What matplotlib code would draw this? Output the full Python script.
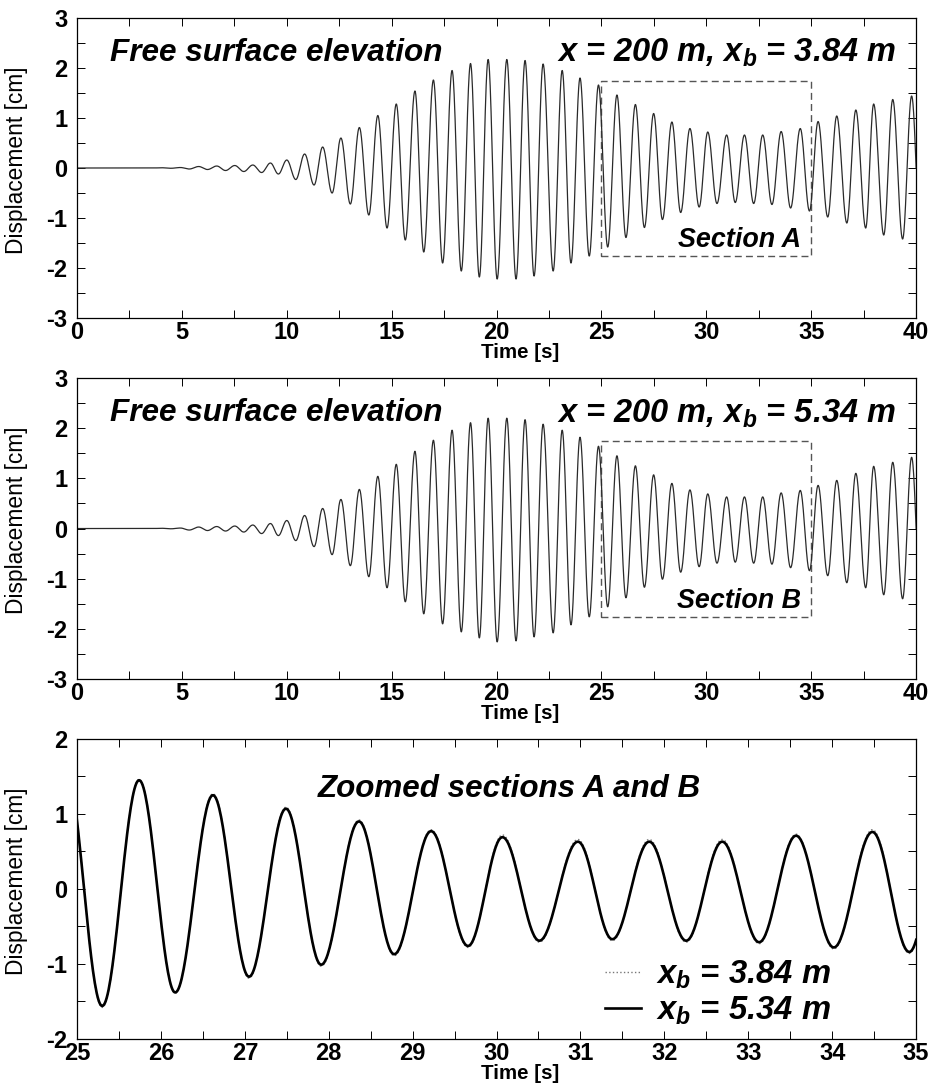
import matplotlib
matplotlib.use("Agg")
import matplotlib.pyplot as plt
import numpy as np
from matplotlib import font_manager
from matplotlib.ticker import MultipleLocator
from matplotlib.patches import Rectangle

# crest / trough times [s], alternating
ext_time = [0.0, 3.6, 4.05, 4.48, 4.93, 5.35, 5.80, 6.22, 6.66, 7.08, 7.52, 7.95,
            8.38, 8.80, 9.22, 9.60, 10.00, 10.43, 10.85, 11.30, 11.71, 12.16,
            12.58, 13.03, 13.46, 13.91, 14.34, 14.78, 15.22, 15.65, 16.11, 16.53,
            16.99, 17.43, 17.88, 18.32, 18.76, 19.18, 19.60, 20.03, 20.49, 20.93,
            21.36, 21.79, 22.22, 22.70, 23.13, 23.55, 23.98, 24.42, 24.86, 25.30,
            25.74, 26.17, 26.62, 27.05, 27.49, 27.91, 28.36, 28.78, 29.22, 29.66,
            30.07, 30.51, 30.97, 31.38, 31.82, 32.26, 32.69, 33.13, 33.57, 34.02,
            34.48, 34.92, 35.33, 35.79, 36.22, 36.70, 37.13, 37.60, 37.98, 38.46,
            38.89, 39.36, 39.79, 40.22]

# elevation at those extrema [cm], breaker position x_b = 3.84 m
elev_a = [0, 0, 0.005, -0.005, 0.01, -0.02, 0.03, -0.03, 0.04, -0.05, 0.05, -0.07,
          0.06, -0.09, 0.10, -0.12, 0.16, -0.23, 0.28, -0.34, 0.42, -0.50,
          0.60, -0.72, 0.81, -0.94, 1.05, -1.20, 1.28, -1.44, 1.54, -1.68,
          1.76, -1.90, 1.95, -2.06, 2.09, -2.18, 2.17, -2.22, 2.17, -2.22,
          2.15, -2.16, 2.08, -2.06, 1.95, -1.90, 1.80, -1.76, 1.66, -1.58,
          1.46, -1.39, 1.27, -1.19, 1.09, -1.03, 0.92, -0.89, 0.79, -0.78,
          0.72, -0.71, 0.66, -0.69, 0.66, -0.71, 0.66, -0.73, 0.73, -0.80,
          0.79, -0.86, 0.93, -0.98, 1.04, -1.10, 1.16, -1.20, 1.28, -1.34,
          1.37, -1.42, 1.44, -1.45]

# x_b = 5.34 m
elev_b = [0, 0, 0.005, -0.005, 0.01, -0.03, 0.03, -0.04, 0.04, -0.05, 0.05, -0.07,
          0.07, -0.10, 0.10, -0.14, 0.16, -0.24, 0.26, -0.36, 0.40, -0.52,
          0.58, -0.74, 0.78, -0.96, 1.04, -1.18, 1.28, -1.46, 1.54, -1.70,
          1.76, -1.90, 1.96, -2.06, 2.11, -2.18, 2.20, -2.26, 2.20, -2.24,
          2.17, -2.16, 2.08, -2.08, 1.96, -1.92, 1.82, -1.76, 1.64, -1.56,
          1.45, -1.38, 1.25, -1.17, 1.07, -1.01, 0.90, -0.87, 0.77, -0.76,
          0.69, -0.69, 0.63, -0.67, 0.63, -0.69, 0.63, -0.71, 0.71, -0.78,
          0.76, -0.84, 0.86, -0.94, 0.96, -1.08, 1.10, -1.18, 1.24, -1.32,
          1.32, -1.40, 1.42, -1.42]

breaker_pos = ['3.84', '5.34']
section_names = ['A', 'B']

# narrow Helvetica look if we have it, plain Liberation Sans otherwise
names = {f.name for f in font_manager.fontManager.ttflist}
if 'Liberation Sans Narrow' in names:
    fam, k = 'Liberation Sans Narrow', 1.0
else:
    fam, k = 'Liberation Sans', 0.82
plt.rcParams['font.family'] = [fam, 'DejaVu Sans']
plt.rcParams['mathtext.fontset'] = 'custom'
plt.rcParams['mathtext.it'] = fam + ':italic:bold'
plt.rcParams['mathtext.rm'] = fam + ':bold'
plt.rcParams['axes.unicode_minus'] = False


def trace(times, values, n=40):
    # join neighbouring crest and trough with a half cosine
    tt, yy = [], []
    for i in range(len(times) - 1):
        t0, t1 = times[i], times[i + 1]
        v0, v1 = values[i], values[i + 1]
        s = np.linspace(0, 1, n, endpoint=False)
        tt.append(t0 + s * (t1 - t0))
        yy.append((v0 + v1) / 2 + (v0 - v1) / 2 * np.cos(np.pi * s))
    return np.concatenate(tt), np.concatenate(yy)


def style_axes(ax, xlim, ylim, xmaj, xmin, ymaj, ymin):
    ax.set_xlim(*xlim)
    ax.set_ylim(*ylim)
    ax.xaxis.set_major_locator(MultipleLocator(xmaj))
    ax.xaxis.set_minor_locator(MultipleLocator(xmin))
    ax.yaxis.set_major_locator(MultipleLocator(ymaj))
    ax.yaxis.set_minor_locator(MultipleLocator(ymin))
    ax.tick_params(which='both', direction='in', top=True, right=True,
                   length=5.5, width=0.7, labelsize=17)
    ax.tick_params(axis='x', pad=2)
    ax.tick_params(axis='y', pad=7)
    for lab in ax.get_xticklabels() + ax.get_yticklabels():
        lab.set_fontweight('bold')
    for sp in ax.spines.values():
        sp.set_linewidth(0.9)
    ax.set_xlabel('Time [s]', fontsize=18 * k, fontweight='bold')
    ax.xaxis.set_label_coords(0.528, -0.084)
    ax.set_ylabel('Displacement [cm]', fontsize=20 * k)
    ax.yaxis.set_label_coords(-0.058, 0.527)


fig = plt.figure(figsize=(9.43, 10.91), dpi=100)
ax1 = fig.add_axes([0.0817, 0.7085, 0.8897, 0.275])
ax2 = fig.add_axes([0.0817, 0.3776, 0.8897, 0.2759])
ax3 = fig.add_axes([0.0817, 0.0477, 0.8897, 0.275])

ta, ya = trace(ext_time, elev_a)
tb, yb = trace(ext_time, elev_b)

for ax, t, y, xb, sec in zip([ax1, ax2], [ta, tb], [ya, yb], breaker_pos, section_names):
    ax.plot(t, y, color='#2a2a2a', lw=0.9)
    style_axes(ax, (0, 40), (-3, 3), 5, 2.5, 1, 0.5)
    ax.text(1.57, 2.14, 'Free surface elevation', fontsize=27.7 * k,
            style='italic', fontweight='bold')
    ax.text(39.05, 2.12, r'x = 200 m, x$_{b}$ = ' + xb + ' m', fontsize=28.6 * k,
            style='italic', fontweight='bold', ha='right')
    ax.add_patch(Rectangle((25, -1.76), 10, 3.51, fill=False, ls=(0, (5, 3)),
                           lw=1.0, ec='#555555'))
    ax.text(34.5, -1.58, 'Section ' + sec, fontsize=23.6 * k, style='italic',
            fontweight='bold', ha='right')

ax3.plot(ta, ya, color='#777777', lw=1.0, ls=':', label=r'x$_{b}$ = 3.84 m')
ax3.plot(tb, yb, color='black', lw=1.9, label=r'x$_{b}$ = 5.34 m')
style_axes(ax3, (25, 35), (-2, 2), 1, 0.5, 1, 0.5)
ax3.text(30.15, 1.23, 'Zoomed sections A and B', fontsize=27.5 * k,
         style='italic', fontweight='bold', ha='center')
ax3.legend(loc='upper left', bbox_to_anchor=(0.629, 0.268), frameon=False,
           prop={'size': 28.8 * k, 'style': 'italic', 'weight': 'bold'},
           handlelength=1.1, handletextpad=0.45, labelspacing=0.12,
           borderpad=0, borderaxespad=0)

fig.savefig('out.png', dpi=100)
